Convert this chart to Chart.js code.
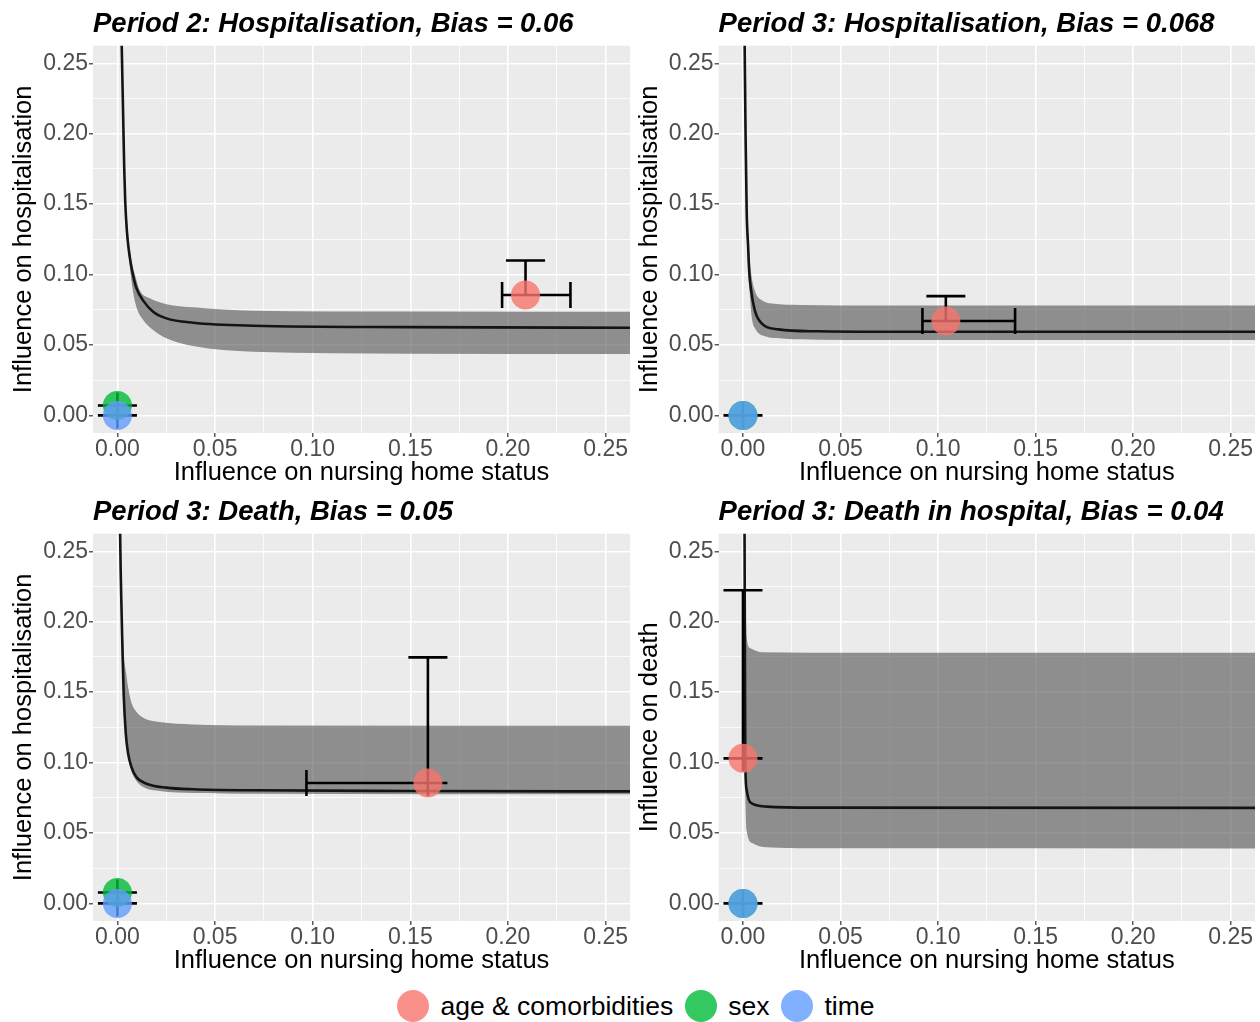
<!DOCTYPE html>
<html>
<head>
<meta charset="utf-8">
<script src="https://cdn.jsdelivr.net/npm/chart.js@4.4.1/dist/chart.umd.min.js"></script>
<style>
  body { margin: 0; background: #fff; font-family: "Liberation Sans", Arial, Helvetica, sans-serif; }
  #page { position: relative; width: 1260px; height: 1022px; overflow: hidden; }
  .panel { position: absolute; width: 630px; height: 490px; }
  #legend { position: absolute; left: 12px; top: 990px; width: 1260px; height: 32px;
            display: flex; justify-content: center; align-items: center; font-size: 26.5px; color: #000; }
  #legend .dot { width: 32px; height: 32px; border-radius: 50%; margin-right: 11px; }
  #legend .txt { margin-right: 12px; }
</style>
</head>
<body>
<div id="page">
  <div class="panel" style="left:0;top:0"><canvas id="p1" width="630" height="490"></canvas></div>
  <div class="panel" style="left:630px;top:0"><canvas id="p2" width="630" height="490"></canvas></div>
  <div class="panel" style="left:0;top:488px"><canvas id="p3" width="630" height="490"></canvas></div>
  <div class="panel" style="left:630px;top:488px"><canvas id="p4" width="630" height="490"></canvas></div>
  <div id="legend">
    <span class="dot" style="background:rgba(248,118,109,0.8)"></span><span class="txt">age &amp; comorbidities</span>
    <span class="dot" style="background:rgba(0,186,56,0.8)"></span><span class="txt">sex</span>
    <span class="dot" style="background:rgba(97,156,255,0.8)"></span><span class="txt">time</span>
  </div>
</div>
<script>
// axis ticks (same on x and y in every panel)
const majorTicks = [0, 0.05, 0.10, 0.15, 0.20, 0.25];
const tickLabels = ['0.00', '0.05', '0.10', '0.15', '0.20', '0.25'];
const minorTicks = [0.025, 0.075, 0.125, 0.175, 0.225];

const panelTitles = [
  'Period 2: Hospitalisation, Bias = 0.06',
  'Period 3: Hospitalisation, Bias = 0.068',
  'Period 3: Death, Bias = 0.05',
  'Period 3: Death in hospital, Bias = 0.04'
];
const yTitles = ['Influence on hospitalisation', 'Influence on hospitalisation',
                 'Influence on hospitalisation', 'Influence on death'];
const xTitle = 'Influence on nursing home status';

// bias curves
const p1CurveX = [0.00165, 0.0022, 0.0029, 0.0035, 0.004, 0.0048, 0.0056, 0.0067, 0.0077, 0.0097, 0.0132, 0.0183, 0.0251, 0.0388, 0.0695, 0.15, 0.27];
const p1CurveY = [0.30, 0.263, 0.2156, 0.175, 0.152, 0.132, 0.12, 0.109, 0.1015, 0.0905, 0.0815, 0.0736, 0.0689, 0.0658, 0.0637, 0.0627, 0.0622];
const p1UpperX = [0.0019, 0.0024, 0.0031, 0.0037, 0.0043, 0.0052, 0.0062, 0.0074, 0.0089, 0.0114, 0.0166, 0.0251, 0.0388, 0.0695, 0.15, 0.27];
const p1UpperY = [0.30, 0.263, 0.2156, 0.175, 0.152, 0.132, 0.12, 0.109, 0.1004, 0.089, 0.0831, 0.079, 0.0767, 0.0743, 0.0737, 0.0735];
const p1LowerX = [0.0015, 0.002, 0.0027, 0.0033, 0.0038, 0.0046, 0.0054, 0.0064, 0.0077, 0.0097, 0.0132, 0.0183, 0.0251, 0.0388, 0.0695, 0.15, 0.27];
const p1LowerY = [0.30, 0.263, 0.2156, 0.175, 0.152, 0.132, 0.118, 0.105, 0.0905, 0.0771, 0.0677, 0.0606, 0.0547, 0.0492, 0.0452, 0.0438, 0.0435];

const p2CurveX = [0.0007, 0.00085, 0.0014, 0.0019, 0.0026, 0.0032, 0.0043, 0.0063, 0.0097, 0.0182, 0.0386, 0.0692, 0.27];
const p2CurveY = [0.30, 0.263, 0.192, 0.1445, 0.121, 0.102, 0.0877, 0.0735, 0.0652, 0.0611, 0.0597, 0.0594, 0.0594];
const p2UpperX = [0.0009, 0.0011, 0.0017, 0.0023, 0.003, 0.0041, 0.0063, 0.0097, 0.0148, 0.030, 0.0692, 0.27];
const p2UpperY = [0.30, 0.263, 0.192, 0.1445, 0.121, 0.102, 0.0877, 0.0818, 0.0794, 0.0784, 0.078, 0.078];
const p2LowerX = [0.0005, 0.0006, 0.0012, 0.0016, 0.0022, 0.0027, 0.0034, 0.0046, 0.0063, 0.0097, 0.0216, 0.0386, 0.0692, 0.27];
const p2LowerY = [0.30, 0.263, 0.192, 0.1445, 0.121, 0.102, 0.0877, 0.0687, 0.0616, 0.0569, 0.0545, 0.0538, 0.0536, 0.0535];

const p3CurveX = [0.0012, 0.0014, 0.0017, 0.002, 0.0026, 0.0032, 0.0043, 0.0055, 0.0072, 0.0097, 0.0149, 0.0251, 0.0388, 0.0695, 0.15, 0.27];
const p3CurveY = [0.30, 0.262, 0.235, 0.2152, 0.1797, 0.149, 0.1205, 0.1063, 0.0968, 0.0897, 0.085, 0.0822, 0.081, 0.0803, 0.0798, 0.0795];
const p3UpperX = [0.0014, 0.0016, 0.0023, 0.0032, 0.0045, 0.0058, 0.0072, 0.0095, 0.0132, 0.0217, 0.0388, 0.0695, 0.27];
const p3UpperY = [0.30, 0.262, 0.2152, 0.1797, 0.163, 0.151, 0.1425, 0.1365, 0.1319, 0.1288, 0.1271, 0.1264, 0.1262];
const p3LowerX = [0.001, 0.0012, 0.0018, 0.0024, 0.003, 0.004, 0.0052, 0.0068, 0.0095, 0.0132, 0.0217, 0.0388, 0.0695, 0.27];
const p3LowerY = [0.30, 0.262, 0.2152, 0.1797, 0.149, 0.1205, 0.1063, 0.0955, 0.0875, 0.0826, 0.0798, 0.0784, 0.0779, 0.0775];

const p4CurveX = [0.0007, 0.0008, 0.001, 0.0012, 0.0018, 0.0038, 0.0121, 0.0348, 0.27];
const p4CurveY = [0.30, 0.262, 0.1728, 0.1005, 0.0812, 0.0716, 0.0687, 0.068, 0.0678];
const p4UpperX = [0.0009, 0.0011, 0.0014, 0.0018, 0.0038, 0.01, 0.0348, 0.27];
const p4UpperY = [0.30, 0.262, 0.22, 0.1897, 0.1812, 0.1783, 0.178, 0.178];
const p4LowerX = [0.0004, 0.0005, 0.0008, 0.001, 0.0013, 0.0018, 0.0049, 0.0121, 0.0348, 0.27];
const p4LowerY = [0.30, 0.262, 0.15, 0.1, 0.07, 0.0523, 0.0427, 0.0398, 0.0391, 0.039];

// estimates with intervals, one entry per panel
const ageX     = [0.209, 0.104, 0.159, 0.0];
const ageY     = [0.0855, 0.067, 0.0855, 0.103];
const ageXLow  = [0.197, 0.092, 0.0968, 0.0];
const ageXHigh = [0.232, 0.1395, 0.159, 0.0];
const ageYLow  = [0.0855, 0.067, 0.0855, 0.103];
const ageYHigh = [0.110, 0.0847, 0.1747, 0.2223];
const sexX  = [0, 0, 0, 0];
const sexY  = [0.007, 0, 0.0077, 0];
const timeX = [0, 0, 0, 0];
const timeY = [0, 0, 0, 0];

Chart.defaults.font.family = '"Liberation Sans", Arial, Helvetica, sans-serif';
Chart.defaults.animation = false;

const curves = [
  [p1CurveX, p1CurveY, p1UpperX, p1UpperY, p1LowerX, p1LowerY],
  [p2CurveX, p2CurveY, p2UpperX, p2UpperY, p2LowerX, p2LowerY],
  [p3CurveX, p3CurveY, p3UpperX, p3UpperY, p3LowerX, p3LowerY],
  [p4CurveX, p4CurveY, p4UpperX, p4UpperY, p4LowerX, p4LowerY]
];

const CAP_W = 0.02, CAP_H = 0.0185;
const allTicks = majorTicks.concat(minorTicks).sort((a, b) => a - b);
const isMajor = v => Math.round(v * 1000) % 50 === 0;

const zip = (xs, ys) => xs.map((x, i) => ({ x: x, y: ys[i] }));

function errorBars(x, y, xlo, xhi, ylo, yhi) {
  const segs = [
    [x, ylo, x, yhi], [x - CAP_W / 2, yhi, x + CAP_W / 2, yhi], [x - CAP_W / 2, ylo, x + CAP_W / 2, ylo],
    [xlo, y, xhi, y], [xlo, y - CAP_H / 2, xlo, y + CAP_H / 2], [xhi, y - CAP_H / 2, xhi, y + CAP_H / 2]
  ];
  const out = [];
  segs.forEach(s => {
    out.push({ x: s[0], y: s[1] }, { x: s[2], y: s[3] }, { x: s[2], y: null });
  });
  return out;
}

const panelBg = {
  id: 'panelBg',
  beforeDraw(chart) {
    const a = chart.chartArea, ctx = chart.ctx;
    ctx.save();
    ctx.fillStyle = '#EBEBEB';
    ctx.fillRect(a.left, a.top, a.right - a.left, a.bottom - a.top);
    ctx.restore();
  }
};

function axis(title, fixSize, titlePad) {
  return {
    type: 'linear', min: -0.0125, max: 0.2625,
    afterBuildTicks: s => { s.ticks = allTicks.map(v => ({ value: v })); },
    afterFit: s => {
      fixSize(s);
      s.paddingLeft = 0; s.paddingRight = 0; s.paddingTop = 0; s.paddingBottom = 0;
    },
    border: { display: false },
    grid: {
      color: '#FFFFFF',
      lineWidth: c => isMajor(c.tick.value) ? 1.6 : 0.8,
      tickLength: 4, tickWidth: 1.2,
      tickColor: c => isMajor(c.tick.value) ? '#333333' : 'rgba(0,0,0,0)'
    },
    ticks: {
      autoSkip: false, maxRotation: 0, color: '#4D4D4D', padding: 1,
      font: { size: 23, lineHeight: 1 },
      callback: v => isMajor(v) ? tickLabels[majorTicks.findIndex(t => Math.abs(t - v) < 1e-9)] : ''
    },
    title: { display: true, text: title, color: '#000', font: { size: 25.5 }, padding: titlePad }
  };
}

const layouts = [
  { yWidth: 93, right: 0, yPad: 8.7 },
  { yWidth: 88.6, right: 5, yPad: 4.7 },
  { yWidth: 93, right: 0, yPad: 8.7 },
  { yWidth: 88.6, right: 5, yPad: 4.7 }
];

['p1', 'p2', 'p3', 'p4'].forEach((id, p) => {
  const c = curves[p];
  const L = layouts[p];
  new Chart(document.getElementById(id), {
    type: 'scatter',
    data: {
      datasets: [
        { data: zip(c[2], c[3]), showLine: true, fill: '+1', backgroundColor: 'rgba(80,80,80,0.6)',
          borderColor: 'rgba(0,0,0,0)', borderWidth: 0, pointRadius: 0, cubicInterpolationMode: 'monotone', order: 7 },
        { data: zip(c[4], c[5]), showLine: true, fill: false,
          borderColor: 'rgba(0,0,0,0)', borderWidth: 0, pointRadius: 0, cubicInterpolationMode: 'monotone', order: 8 },
        { data: zip(c[0], c[1]), showLine: true, borderColor: '#141414', borderWidth: 2.6, pointRadius: 0,
          cubicInterpolationMode: 'monotone', clip: 0, order: 5 },
        { data: errorBars(ageX[p], ageY[p], ageXLow[p], ageXHigh[p], ageYLow[p], ageYHigh[p])
            .concat(errorBars(sexX[p], sexY[p], sexX[p], sexX[p], sexY[p], sexY[p]))
            .concat(errorBars(timeX[p], timeY[p], timeX[p], timeX[p], timeY[p], timeY[p])),
          showLine: true, spanGaps: false, borderColor: '#000', borderWidth: 2.6, pointRadius: 0, order: 4 },
        { label: 'age & comorbidities', data: [{ x: ageX[p], y: ageY[p] }], pointRadius: 14.5,
          backgroundColor: 'rgba(248,118,109,0.8)', borderWidth: 0, order: 3 },
        { label: 'sex', data: [{ x: sexX[p], y: sexY[p] }], pointRadius: 14.5,
          backgroundColor: 'rgba(0,186,56,0.8)', borderWidth: 0, order: 2 },
        { label: 'time', data: [{ x: timeX[p], y: timeY[p] }], pointRadius: 14.5,
          backgroundColor: 'rgba(97,156,255,0.8)', borderWidth: 0, order: 1 }
      ]
    },
    options: {
      responsive: false,
      events: [],
      layout: { autoPadding: false, padding: { left: 0, right: L.right, top: 0, bottom: 0 } },
      plugins: {
        legend: { display: false },
        tooltip: { enabled: false },
        title: {
          display: true, text: panelTitles[p], align: 'start', fullSize: false, color: '#000',
          font: { size: 27.5, weight: 'bold', style: 'italic' }, padding: { top: 8, bottom: 4.7 }
        }
      },
      scales: {
        x: axis(xTitle, s => { s.height = 57; }, { top: 0, bottom: 1.7 }),
        y: axis(yTitles[p], s => { s.width = L.yWidth; }, { top: L.yPad, bottom: 0 })
      }
    },
    plugins: [panelBg]
  });
});
</script>
</body>
</html>
